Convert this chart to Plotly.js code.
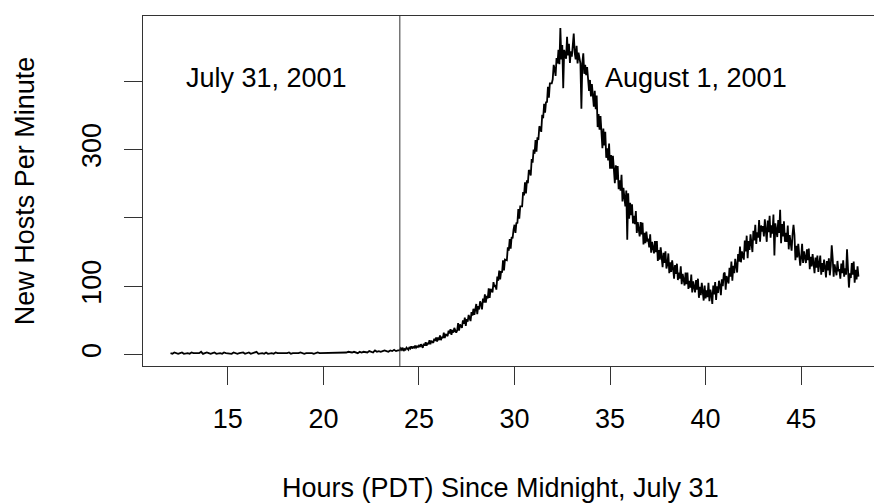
<!DOCTYPE html>
<html>
<head>
<meta charset="utf-8">
<script src="https://cdn.plot.ly/plotly-3.0.1.min.js"></script>
<style>
html, body { margin: 0; padding: 0; overflow: hidden; background: #fff; }
#chart { width: 900px; height: 504px; }
</style>
</head>
<body>
<div id="chart"></div>
<script>
// July 31, 12:00 to 24:00 - one sample every 0.1 hour
const earlyStart = 12;
const earlyStep = 0.1;
const earlyHosts = [
  2,1,3,2,1,2,3,1,2,2,
  1,3,2,2,1,2,4,1,2,3,
  2,1,2,3,1,2,2,1,3,2,
  2,2,1,3,2,1,2,2,3,1,
  2,3,1,2,2,4,1,2,2,1,
  3,1,2,2,1,3,2,2,1,2,
  2,2,3,1,2,2,1,2,3,2,
  1,2,2,3,2,1,2,3,2,2,
  2,3,2,2,3,2,3,2,3,3,
  3,2,3,4,3,3,4,3,2,4,
  3,4,4,3,5,4,3,6,4,5,
  4,5,6,5,4,6,5,7,5,6
];
// August 1, 00:00 to 24:00 (hours 24-48) - one sample every 0.05 hour
const lateStart = 24;
const lateStep = 0.05;
const lateHosts = [
  6,9,7,10,5,8,7,10,9,7,11,9,12,9,11,10,13,10,12,11,
  13,11,15,13,10,16,13,18,13,17,15,21,15,20,18,17,23,20,25,19,
  25,21,28,21,26,24,32,24,30,29,27,35,31,37,29,36,32,39,36,32,
  35,46,35,44,42,39,50,45,54,42,52,48,58,54,49,62,57,67,58,66,
  74,59,71,66,78,74,66,82,76,88,76,86,82,97,83,96,93,91,106,99,
  102,95,114,108,123,110,122,120,138,123,139,138,138,157,152,169,155,172,170,183,
  190,178,193,192,213,199,217,217,217,238,233,252,236,255,251,270,268,262,286,281,
  300,294,314,297,318,314,334,332,326,351,346,367,354,370,369,392,376,397,397,397,
  403,424,418,408,434,426,446,425,478,432,453,390,446,440,433,465,438,455,427,444,
  436,453,470,442,432,452,426,442,434,426,360,427,441,411,424,409,421,406,386,402,
  378,396,380,363,386,359,379,333,352,329,349,329,302,331,306,326,288,302,284,309,
  272,292,272,291,274,251,277,256,276,242,255,240,263,224,244,230,217,240,168,236,
  199,222,204,220,192,203,191,210,178,194,183,173,194,176,193,161,178,163,180,167,
  168,157,176,149,165,155,148,166,150,166,137,153,139,157,144,128,149,134,151,126,
  132,148,119,135,121,138,126,111,131,118,133,109,120,111,129,103,118,111,101,120,
  103,120,96,108,98,117,91,107,98,91,109,95,111,83,99,87,105,94,79,101,
  82,94,84,105,78,95,88,74,101,88,106,80,100,90,108,101,87,110,100,118,
  120,95,115,109,104,127,114,136,108,130,119,140,132,120,147,136,158,135,151,144,
  139,167,151,174,141,166,153,176,166,150,181,167,190,162,179,171,197,165,189,180,
  188,173,198,184,165,196,179,203,171,189,177,205,145,192,182,172,197,178,212,163,
  191,173,195,165,178,165,189,154,175,163,152,176,190,175,138,159,142,162,149,130,
  142,162,134,151,142,134,154,138,155,125,143,129,147,135,119,142,127,145,121,133,
  145,117,134,121,139,128,113,137,123,141,116,130,160,141,114,132,124,116,137,122,
  125,111,133,119,138,114,126,117,154,110,98,119,112,134,117,136,105,124,110,129,
  114
];
const hours = earlyHosts.map((_, i) => +(earlyStart + i * earlyStep).toFixed(2))
  .concat(lateHosts.map((_, i) => +(lateStart + i * lateStep).toFixed(2)));
const hosts = earlyHosts.concat(lateHosts);

const xTickVals = [15, 20, 25, 30, 35, 40, 45];
const yTickVals = [0, 100, 200, 300, 400];
const yTickText = ["0", "100", "", "300", ""];
const midnightHour = 24;
const dayLabels = ["July 31, 2001", "August 1, 2001"];
const dayLabelX = [17.0, 39.5];
const dayLabelY = [405, 405];
const xTitle = "Hours (PDT) Since Midnight, July 31";
const yTitle = "New Hosts Per Minute";

const FONT = "Liberation Sans, Arial, Helvetica, sans-serif";
const FS = 27;

const trace = {
  x: hours,
  y: hosts,
  type: "scatter",
  mode: "lines",
  line: { color: "#000", width: 1.8 },
  hoverinfo: "skip"
};

const layout = {
  width: 900,
  height: 504,
  margin: { l: 143, r: 14, t: 16, b: 138 },
  paper_bgcolor: "#fff",
  plot_bgcolor: "#fff",
  showlegend: false,
  font: { family: FONT, size: FS, color: "#000" },
  xaxis: {
    range: [10.56, 49.44],
    tickvals: xTickVals,
    ticks: "outside",
    ticklen: 18,
    tickwidth: 1,
    tickcolor: "#333",
    showgrid: false,
    zeroline: false,
    showline: true,
    mirror: true,
    linecolor: "#333",
    linewidth: 1,
    tickfont: { family: FONT, size: FS, color: "#000" },
    ticklabelstandoff: 11
  },
  yaxis: {
    range: [-16.8, 495.6],
    tickvals: yTickVals,
    ticktext: yTickText,
    tickangle: -90,
    ticks: "outside",
    ticklen: 18,
    tickwidth: 1,
    tickcolor: "#333",
    showgrid: false,
    zeroline: false,
    showline: true,
    mirror: true,
    linecolor: "#333",
    linewidth: 1,
    tickfont: { family: FONT, size: FS, color: "#000" },
    ticklabelstandoff: 12,
    title: { text: yTitle, font: { family: FONT, size: FS, color: "#000" }, standoff: 34 }
  },
  shapes: [{
    type: "line",
    xref: "x", yref: "paper",
    x0: midnightHour, x1: midnightHour, y0: 0, y1: 1,
    line: { color: "#333", width: 1 }
  }],
  annotations: [
    { x: dayLabelX[0], y: dayLabelY[0], xref: "x", yref: "y", text: dayLabels[0], showarrow: false,
      font: { family: FONT, size: FS, color: "#000" }, xanchor: "center", yanchor: "middle" },
    { x: dayLabelX[1], y: dayLabelY[1], xref: "x", yref: "y", text: dayLabels[1], showarrow: false,
      font: { family: FONT, size: FS, color: "#000" }, xanchor: "center", yanchor: "middle" },
    { x: 500, y: 488, xref: "paper", yref: "paper", text: xTitle, showarrow: false,
      font: { family: FONT, size: FS, color: "#000" }, xanchor: "center", yanchor: "middle" }
  ]
};
// place the x-axis title by pixel position (paper coords)
const plotW = layout.width - layout.margin.l - layout.margin.r;
const plotH = layout.height - layout.margin.t - layout.margin.b;
layout.annotations[2].x = (500 - layout.margin.l) / plotW;
layout.annotations[2].y = (layout.height - layout.margin.b - 488) / plotH;

Plotly.newPlot("chart", [trace], layout, { displayModeBar: false, staticPlot: true });
</script>
</body>
</html>
